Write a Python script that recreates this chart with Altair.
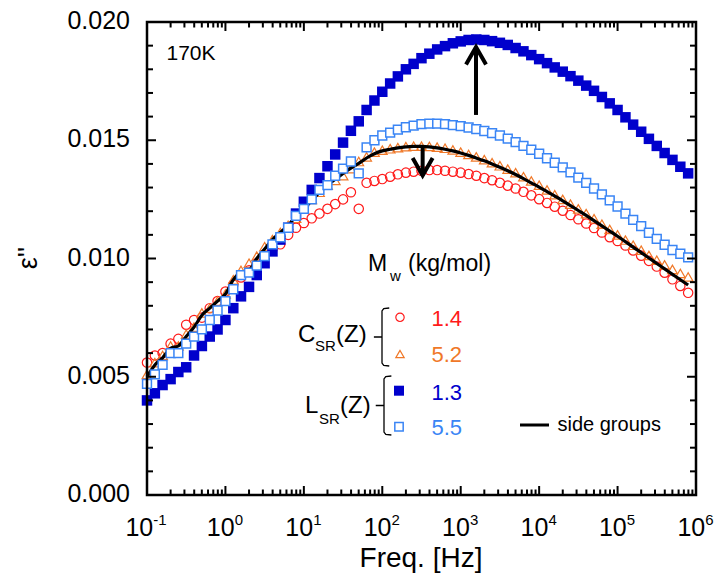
import altair as alt
import pandas as pd

# Measurement grid: 10 points per decade from 0.1 Hz up to ~8e5 Hz
MANTISSA = [1.0, 1.26, 1.58, 2.0, 2.51, 3.16, 3.98, 5.01, 6.31, 7.94]
DECADES = [-1, 0, 1, 2, 3, 4, 5]
freq = [m * 10.0 ** d for d in DECADES for m in MANTISSA]

# epsilon'' at 170 K
csr_14 = [0.0056, 0.0059, 0.0060, 0.0064, 0.0066, 0.0072, 0.0074, 0.0075, 0.0079, 0.0082,
          0.0086, 0.0089, 0.0092, 0.0095, 0.0098, 0.0101, 0.0104, 0.0106, 0.0110, 0.0113,
          0.0115, 0.0117, 0.0119, 0.0121, 0.0123, 0.0125, 0.0128, 0.0121, 0.0132, 0.01328,
          0.01336, 0.01346, 0.01356, 0.01363, 0.01367, 0.01371, 0.01374, 0.01374, 0.01371, 0.01367,
          0.01363, 0.01357, 0.0135, 0.0134, 0.01331, 0.0132, 0.01308, 0.01296, 0.01282, 0.01267,
          0.01251, 0.01235, 0.01219, 0.01202, 0.01184, 0.01166, 0.01148, 0.01129, 0.0111, 0.0109,
          0.01074, 0.01055, 0.01034, 0.01012, 0.0099, 0.00966, 0.0094, 0.00912, 0.00884, 0.00855]
csr_52 = [0.0051, 0.0056, 0.0059, 0.0063, 0.0063, 0.0068, 0.0071, 0.0077, 0.0079, 0.0082,
          0.0085, 0.0091, 0.0095, 0.0098, 0.0101, 0.0105, 0.0108, 0.0111, 0.0114, 0.0117,
          0.0121, 0.0125, 0.0128, 0.0131, 0.0133, 0.0135, 0.0138, 0.0141, 0.0143, 0.0145,
          0.01458, 0.01464, 0.01469, 0.01473, 0.01475, 0.01475, 0.01474, 0.01471, 0.01466, 0.01459,
          0.0145, 0.0144, 0.0143, 0.01418, 0.01405, 0.01392, 0.01378, 0.01363, 0.01346, 0.01328,
          0.0131, 0.0129, 0.0127, 0.0125, 0.0123, 0.0121, 0.0119, 0.01168, 0.01145, 0.01123,
          0.011, 0.01078, 0.01056, 0.01035, 0.01013, 0.00993, 0.00973, 0.00954, 0.00937, 0.00922]
lsr_13 = [0.0040, 0.0043, 0.00465, 0.0049, 0.0052, 0.0054, 0.0059, 0.0063, 0.0067, 0.0070,
          0.0074, 0.0079, 0.0084, 0.0088, 0.0093, 0.0098, 0.0103, 0.0108, 0.0113, 0.0119,
          0.0124, 0.0129, 0.0134, 0.0139, 0.0144, 0.0149, 0.0154, 0.0158, 0.01628, 0.01668,
          0.01705, 0.0174, 0.0177, 0.018, 0.01823, 0.01847, 0.01866, 0.01884, 0.01898, 0.0191,
          0.01918, 0.01924, 0.01926, 0.01924, 0.01919, 0.01912, 0.01903, 0.0189, 0.01876, 0.0186,
          0.01843, 0.01826, 0.01808, 0.0179, 0.01771, 0.01752, 0.01731, 0.01709, 0.01683, 0.01656,
          0.01628, 0.01597, 0.01566, 0.01536, 0.01506, 0.01476, 0.01446, 0.01417, 0.01388, 0.0136]
lsr_55 = [0.0047, 0.0051, 0.0055, 0.0060, 0.0060, 0.0064, 0.0067, 0.0070, 0.0074, 0.0078,
          0.0082, 0.0087, 0.0093, 0.0094, 0.0097, 0.0101, 0.0106, 0.0109, 0.0113, 0.0118,
          0.0121, 0.0125, 0.0129, 0.0131, 0.0135, 0.0138, 0.0141, 0.0136, 0.0147, 0.0150,
          0.0152, 0.01532, 0.01545, 0.01555, 0.01562, 0.01568, 0.0157, 0.0157, 0.01568, 0.01564,
          0.0156, 0.01554, 0.01547, 0.01539, 0.0153, 0.0152, 0.01507, 0.01492, 0.01476, 0.0146,
          0.01443, 0.01424, 0.01405, 0.01385, 0.01364, 0.01342, 0.0132, 0.01296, 0.01271, 0.01246,
          0.0122, 0.0119, 0.01163, 0.01137, 0.01109, 0.01083, 0.01058, 0.01036, 0.0102, 0.01005]
side_groups = [0.0050, 0.0055, 0.0058, 0.0062, 0.0063, 0.0067, 0.0071, 0.0076, 0.0079, 0.0082,
               0.0085, 0.0091, 0.0094, 0.0095, 0.0100, 0.0104, 0.0108, 0.0111, 0.0114, 0.0118,
               0.0121, 0.01245, 0.0128, 0.0131, 0.01335, 0.0136, 0.01382, 0.01402, 0.01425, 0.01443,
               0.01455, 0.01462, 0.01468, 0.01472, 0.01474, 0.01474, 0.01472, 0.01468, 0.01462, 0.01455,
               0.01446, 0.01436, 0.01425, 0.01413, 0.014, 0.01386, 0.01371, 0.01355, 0.01338, 0.0132,
               0.01302, 0.01283, 0.01264, 0.01244, 0.01224, 0.01203, 0.01182, 0.0116, 0.01138, 0.01116,
               0.01094, 0.01071, 0.01048, 0.01025, 0.01002, 0.00979, 0.00956, 0.00933, 0.0091, 0.00888]

# Axis ticks and labels
x_major = [0.1, 1, 10, 100, 1e3, 1e4, 1e5, 1e6]
x_exponents = ["-1", "0", "1", "2", "3", "4", "5", "6"]
x_minor = [m * 10.0 ** d for d in DECADES for m in range(2, 10)]
y_major = [0.0, 0.005, 0.010, 0.015, 0.020]
y_labels = ["0.000", "0.005", "0.010", "0.015", "0.020"]
y_minor = [i / 1000 for i in range(21) if i % 5]

# Arrows marking the change of the loss peak
arrows = pd.DataFrame({
    "f": [1567.0, 327.0],
    "base": [0.01607, 0.01471],
    "tip": [0.01894, 0.01351],
})

W, H = 549, 473
LEFT, TOP = 147, 22
FONT = "Liberation Sans"
RED, ORANGE, BLUE, LIGHT = "#ff1a1a", "#f07828", "#0000cc", "#3a85f5"

xs = alt.Scale(type="log", domain=[0.1, 1e6])
ys = alt.Scale(domain=[0, 0.02])
X = alt.X("freq:Q", scale=xs, axis=None)

df = pd.DataFrame({"freq": freq, "c14": csr_14, "c52": csr_52,
                   "l13": lsr_13, "l55": lsr_55, "side": side_groups})
base = alt.Chart(df)

circles = base.mark_point(shape="circle", filled=False, color=RED, size=88, strokeWidth=1.2,
                          opacity=1).encode(x=X, y=alt.Y("c14:Q", scale=ys, axis=None))
triangles = base.mark_point(shape="triangle-up", filled=False, color=ORANGE, size=95,
                            strokeWidth=1.2, opacity=1).encode(
    x=X, y=alt.Y("c52:Q", scale=ys, axis=None))
side_line = base.mark_line(color="black", strokeWidth=3.2, interpolate="monotone").encode(
    x=X, y=alt.Y("side:Q", scale=ys, axis=None))
filled_sq = base.mark_square(color=BLUE, size=110, opacity=1).encode(
    x=X, y=alt.Y("l13:Q", scale=ys, axis=None))
open_sq = base.mark_square(fill="white", stroke=LIGHT, strokeWidth=1.5, size=78, opacity=1).encode(
    x=X, y=alt.Y("l55:Q", scale=ys, axis=None))

# Inward ticks on all four sides
def xticks(values, length):
    d = alt.Chart(pd.DataFrame({"v": values}))
    xe = alt.X("v:Q", scale=xs, axis=None)
    bottom = d.mark_rule(color="black", strokeWidth=2).encode(x=xe, y=alt.value(H), y2=alt.value(H - length))
    top = d.mark_rule(color="black", strokeWidth=2).encode(x=xe, y=alt.value(0), y2=alt.value(length))
    return [bottom, top]

def yticks(values, length):
    d = alt.Chart(pd.DataFrame({"v": values}))
    ye = alt.Y("v:Q", scale=ys, axis=None)
    left = d.mark_rule(color="black", strokeWidth=2).encode(y=ye, x=alt.value(0), x2=alt.value(length))
    right = d.mark_rule(color="black", strokeWidth=2).encode(y=ye, x=alt.value(W), x2=alt.value(W - length))
    return [left, right]

ticks = xticks(x_major, 9) + xticks(x_minor, 5.5) + yticks(y_major, 9) + yticks(y_minor, 6)

# Plot frame
frame = alt.Chart(pd.DataFrame({"a": [0]})).mark_rect(
    filled=False, stroke="black", strokeWidth=2.5).encode(
    x=alt.value(0), x2=alt.value(W), y=alt.value(0), y2=alt.value(H))

# Value labels on the epsilon'' axis
ylab = alt.Chart(pd.DataFrame({"v": y_major, "t": y_labels})).mark_text(
    align="right", baseline="middle", fontSize=25, font=FONT, color="black", dy=-1).encode(
    y=alt.Y("v:Q", scale=ys, axis=None), x=alt.value(-17), text="t:N")

# Decade labels 10^n
lab = pd.DataFrame({"v": x_major, "exp": x_exponents})
neg = lab[lab["v"] < 1]
pos = lab[lab["v"] >= 1]
xl = []
for part, shift in ((neg, -3.0), (pos, 0.0)):
    c = alt.Chart(part)
    xe = alt.X("v:Q", scale=xs, axis=None)
    xl.append(c.mark_text(text="10", align="center", baseline="alphabetic", fontSize=25,
                          font=FONT, dx=-4.7 + shift).encode(x=xe, y=alt.value(536 - TOP)))
    xl.append(c.mark_text(align="left", baseline="alphabetic", fontSize=15, font=FONT,
                          dx=9.3 + shift).encode(x=xe, y=alt.value(525 - TOP), text="exp:N"))

# Arrows
arr_x = alt.X("f:Q", scale=xs, axis=None)
arrow_shafts = alt.Chart(arrows).mark_rule(color="black", strokeWidth=4).encode(
    x=arr_x, y=alt.Y("base:Q", scale=ys, axis=None), y2="tip:Q")
up_head = alt.Chart(arrows.iloc[[0]]).mark_point(
    shape="M -1 1.75 L 0 0 L 1 1.75", size=400, filled=False, color="black",
    strokeWidth=4, opacity=1).encode(x=arr_x, y=alt.Y("tip:Q", scale=ys, axis=None))
down_head = alt.Chart(arrows.iloc[[1]]).mark_point(
    shape="M -1 -1.75 L 0 0 L 1 -1.75", size=400, filled=False, color="black",
    strokeWidth=4, opacity=1).encode(x=arr_x, y=alt.Y("tip:Q", scale=ys, axis=None))

one = pd.DataFrame({"a": [0]})

def label(text, x, y, size, color="black", align="left", angle=0, baseline="alphabetic"):
    kw = dict(text=text, align=align, baseline=baseline, fontSize=size, font=FONT, color=color)
    if angle:
        kw["angle"] = angle
    return alt.Chart(one).mark_text(**kw).encode(x=alt.value(x - LEFT), y=alt.value(y - TOP))

def symbol(x, y, **mark):
    return alt.Chart(one).mark_point(opacity=1, **mark).encode(
        x=alt.value(x - LEFT), y=alt.value(y - TOP))

BRACE = "M 0.25 -1 L 0.06 -0.98 L 0 -0.9 L 0 0.9 L 0.06 0.98 L 0.25 1 M 0 0 L -0.28 0"

legend = [
    label("170K", 166.5, 59.5, 21),
    label("M", 368, 270.5, 23),
    label("w", 390, 281, 15),
    label("(kg/mol)", 408, 270.5, 23),
    label("C", 298, 341.7, 24),
    label("SR", 315, 351, 15),
    label("(Z)", 336, 341.7, 24),
    label("L", 305, 413.3, 24),
    label("SR", 319, 423.5, 15),
    label("(Z)", 340, 413.3, 24),
    symbol(382, 337, shape=BRACE, size=3364, filled=False, color="black", strokeWidth=1.3),
    symbol(384, 405.5, shape=BRACE, size=3481, filled=False, color="black", strokeWidth=1.3),
    symbol(400, 317.3, shape="circle", size=70, filled=False, color=RED, strokeWidth=1.2),
    symbol(400, 354, shape="triangle-up", size=70, filled=False, color=ORANGE, strokeWidth=1.2),
    symbol(399, 390.7, shape="square", size=100, filled=True, color=BLUE),
    symbol(399, 426.7, shape="square", size=70, filled=True, fill="white", stroke=LIGHT, strokeWidth=1.5),
    label("1.4", 431.5, 326, 22, RED),
    label("5.2", 431.5, 361.7, 22, ORANGE),
    label("1.3", 431.5, 400, 22, BLUE),
    label("5.5", 431.5, 435, 22, LIGHT),
    alt.Chart(one).mark_rule(color="black", strokeWidth=3).encode(
        x=alt.value(520 - LEFT), x2=alt.value(549 - LEFT), y=alt.value(425 - TOP)),
    label("side groups", 557.5, 430.5, 20),
    label("Freq. [Hz]", 421, 567, 28, align="center"),
    label("ε''", 29, 258, 27, align="center", angle=270, baseline="middle"),
]

chart = alt.layer(
    circles, triangles, side_line, filled_sq, open_sq,
    arrow_shafts, up_head, down_head,
    *ticks, frame, ylab, *xl, *legend,
).properties(
    width=W, height=H,
    padding={"left": LEFT, "top": TOP, "right": 716 - LEFT - W, "bottom": 580 - TOP - H},
    autosize=alt.AutoSizeParams(type="none"),
    background="white",
).configure_view(stroke=None).configure(font=FONT)

chart.save("out.html", embed_options={"renderer": "svg", "actions": False})
